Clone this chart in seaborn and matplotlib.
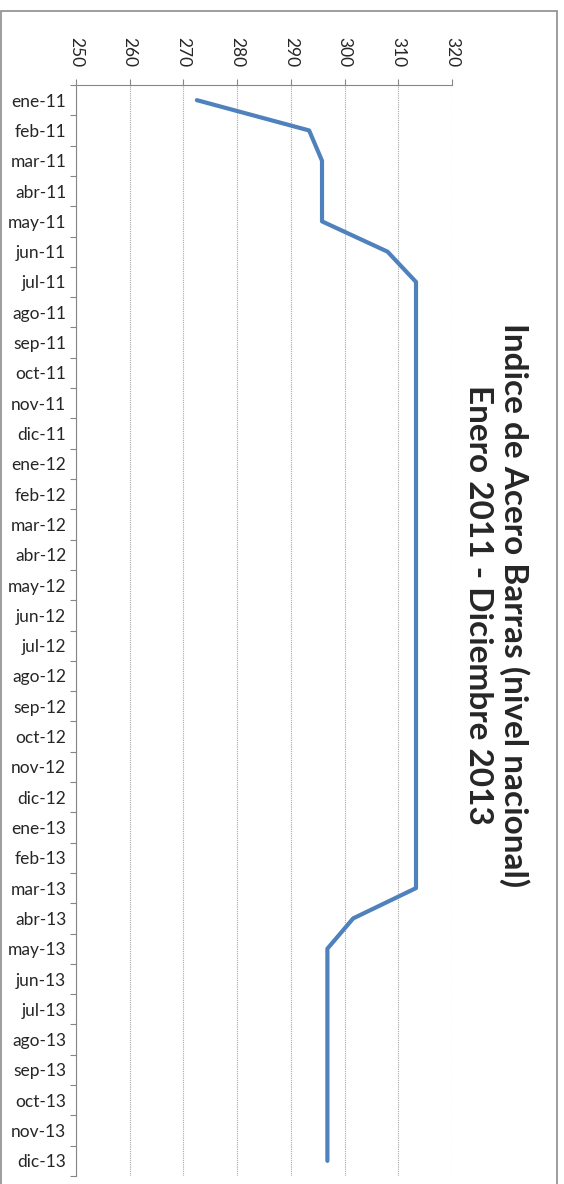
import matplotlib
matplotlib.use("Agg")
import matplotlib.pyplot as plt
import seaborn as sns
import pandas as pd
from matplotlib.patches import Rectangle
from matplotlib.ticker import FixedLocator

# data
months = ["ene-11", "feb-11", "mar-11", "abr-11", "may-11", "jun-11",
          "jul-11", "ago-11", "sep-11", "oct-11", "nov-11", "dic-11",
          "ene-12", "feb-12", "mar-12", "abr-12", "may-12", "jun-12",
          "jul-12", "ago-12", "sep-12", "oct-12", "nov-12", "dic-12",
          "ene-13", "feb-13", "mar-13", "abr-13", "may-13", "jun-13",
          "jul-13", "ago-13", "sep-13", "oct-13", "nov-13", "dic-13"]
indice = [272.5, 293.4, 295.8, 295.8, 295.8, 308.0,
          313.3, 313.3, 313.3, 313.3, 313.3, 313.3,
          313.3, 313.3, 313.3, 313.3, 313.3, 313.3,
          313.3, 313.3, 313.3, 313.3, 313.3, 313.3,
          313.3, 313.3, 313.3, 301.6, 296.8, 296.8,
          296.8, 296.8, 296.8, 296.8, 296.8, 296.8]
x_ticks = [250, 260, 270, 280, 290, 300, 310, 320]
title = "Indice de Acero Barras (nivel nacional)\nEnero 2011 - Diciembre 2013"

df = pd.DataFrame({"mes": months, "pos": range(len(months)), "indice": indice})

sns.set_theme(style="white")
plt.rcParams["font.family"] = ["Lato", "DejaVu Sans"]

fig = plt.figure(figsize=(5.64, 11.84), dpi=100)
ax = fig.add_axes([76 / 564, 8 / 1184, 376 / 564, 1091 / 1184])

sns.lineplot(data=df, x="indice", y="pos", sort=False, estimator=None,
             color="#4F81BD", linewidth=3.0, ax=ax)

ax.set_xlim(250, 320)
ax.set_ylim(len(months) - 0.5, -0.5)
ax.set_xlabel("")
ax.set_ylabel("")

# value axis on top, labels turned
ax.xaxis.tick_top()
ax.set_xticks(x_ticks)
ax.set_xticklabels([str(v) for v in x_ticks], rotation=-90, fontsize=12.5)
ax.tick_params(axis="x", which="major", direction="out", length=4, width=0.8,
               color="#868686", pad=9, top=True, bottom=False)
ax.xaxis.grid(True, linestyle=(0, (1, 1)), color="#A6A6A6", linewidth=0.8)

# category axis, ticks between categories
ax.set_yticks(range(len(months)))
ax.set_yticklabels(months, fontsize=12.5)
ax.yaxis.set_minor_locator(FixedLocator([i - 0.5 for i in range(len(months) + 1)]))
ax.tick_params(axis="y", which="major", length=0, pad=7, left=True)
ax.tick_params(axis="y", which="minor", length=4, width=0.8, color="#868686",
               direction="out", left=True)

for side in ["right", "bottom"]:
    ax.spines[side].set_visible(False)
for side in ["left", "top"]:
    ax.spines[side].set_color("#868686")
    ax.spines[side].set_linewidth(0.8)

fig.text(497 / 564, 1 - 605 / 1184, title, rotation=-90, ha="center", va="center",
         fontsize=24, fontweight="bold", linespacing=1.28, multialignment="center")

# outer chart frame
fig.patches.append(Rectangle((0.001, -0.05), 556 / 564, 1.05 - 11 / 1184,
                             transform=fig.transFigure, fill=False,
                             edgecolor="#8C8C8C", linewidth=1.2))

fig.savefig("out.png", dpi=100)
